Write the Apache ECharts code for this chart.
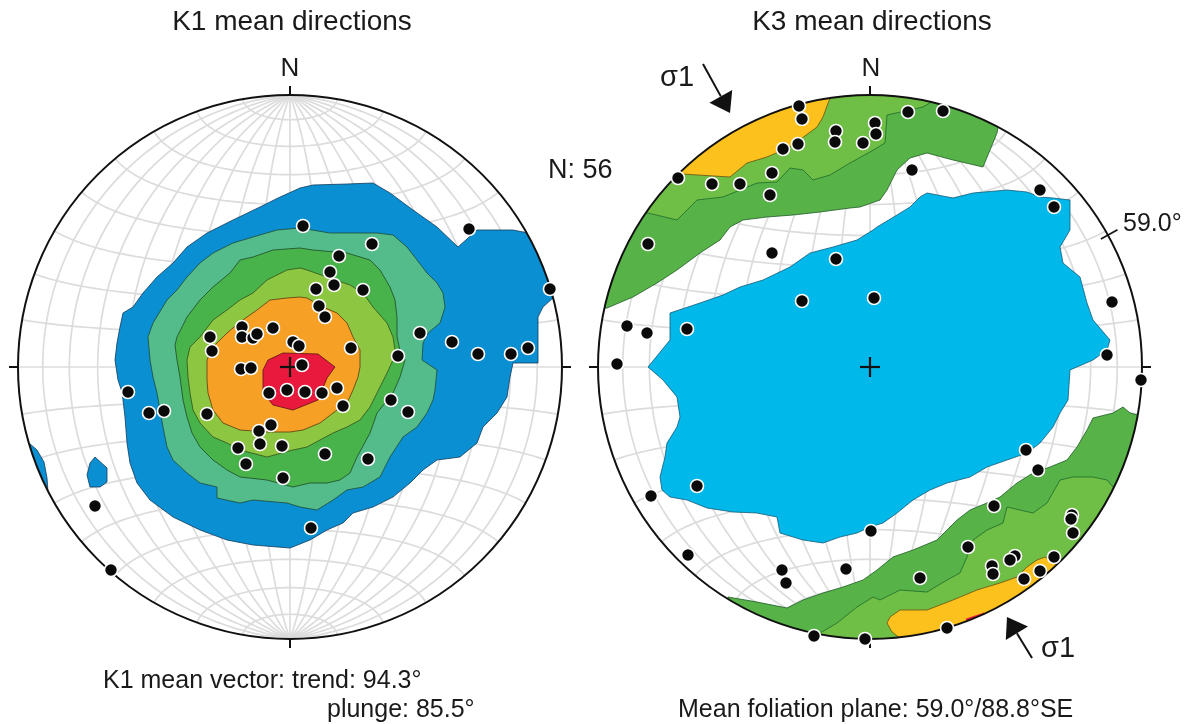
<!DOCTYPE html>
<html>
<head>
<meta charset="utf-8">
<script src="https://cdn.jsdelivr.net/npm/echarts@6/dist/echarts.min.js"></script>
<style>
    html, body { margin: 0; background: #fff; }
    #chart { width: 1188px; height: 724px; }
</style>
</head>
<body>
<div id="chart"></div>
<script>
// net radius in net units (offsets from the net centre, y = north)
const NET_R = 272;

/** K1 directions */
const k1Points = [
    [13, 141], [82, 123], [49, 111], [40, 95], [26, 78], [44, 82], [73, 77], [29, 61], [35, 50],
    [-80, 30], [-48, 40], [-48, 30], [-37, 29], [-33, 33], [-17, 39], [-78, 16], [3, 25], [9, 21],
    [61, 19], [130, 34], [108, 11], [162, 25], [188, 13], [221, 13], [238, 19], [260, 78], [179, 138],
    [-49, -2], [-39, -1], [12, 2], [-162, -25], [-141, -46], [-126, -44], [-83, -47], [-21, -26],
    [-3, -23], [15, -25], [32, -26], [47, -21], [53, -39], [101, -33], [118, -45], [-19, -58],
    [-31, -64], [-52, -81], [-30, -77], [-8, -79], [-44, -97], [35, -87], [78, -92], [-7, -111],
    [21, -161], [-195, -139], [-179, -203],
];
/** K1 density contours, lowest level first */
const k1Level1 = [
    [10, 179], [23, 182], [57, 183], [83, 184], [100, 174], [123, 157], [147, 140], [168, 120],
    [187, 137], [223, 137], [238, 134], [280, 150], [290, 70], [263, 69], [253, 60], [248, 50],
    [248, 4], [223, 4], [220, -10], [217, -30], [207, -46], [193, -60], [187, -76], [170, -90],
    [147, -93], [133, -103], [120, -116], [103, -130], [83, -140], [63, -146], [53, -156],
    [37, -163], [20, -173], [0, -181], [-37, -178], [-63, -173], [-90, -163], [-117, -150],
    [-140, -133], [-153, -116], [-160, -96], [-163, -76], [-165, -50], [-168, -25], [-172, -13],
    [-175, 7], [-173, 24], [-170, 40], [-167, 54], [-157, 60], [-147, 74], [-133, 90], [-117, 104],
    [-103, 120], [-83, 134], [-57, 147], [-30, 160], [-12, 169],
];
const k1Level1Edge = [
    [-261, -76], [-253, -83], [-246, -95], [-243, -111], [-242, -125], [-270, -140], [-285, -80],
];
const k1Level1Blob = [
    [-195, -90], [-183, -101], [-183, -115], [-190, -120], [-200, -120], [-203, -108], [-200, -96],
];
const k1Level2 = [
    [10, 139], [40, 134], [63, 134], [87, 134], [103, 132], [117, 120], [127, 107], [137, 94],
    [147, 84], [153, 74], [155, 60], [150, 44], [138, 34], [133, 24], [132, 7], [147, -3],
    [145, -23], [143, -33], [137, -46], [127, -60], [113, -70], [100, -90], [90, -110], [73, -120],
    [57, -123], [43, -133], [27, -143], [10, -140], [-3, -136], [-37, -133], [-50, -136],
    [-73, -131], [-73, -120], [-90, -116], [-103, -106], [-117, -93], [-123, -80], [-127, -60],
    [-130, -43], [-133, -26], [-137, -10], [-140, 7], [-142, 30], [-137, 44], [-123, 67],
    [-113, 77], [-103, 90], [-90, 104], [-77, 114], [-57, 124], [-37, 130], [-13, 137],
];
const k1Level3 = [
    [10, 119], [23, 117], [57, 114], [80, 107], [90, 97], [100, 80], [105, 67], [107, 50],
    [107, 30], [110, 17], [115, 7], [110, -10], [103, -26], [95, -36], [87, -46], [80, -66],
    [67, -90], [60, -106], [50, -113], [37, -116], [20, -116], [3, -120], [-23, -113], [-50, -110],
    [-63, -103], [-77, -93], [-90, -80], [-98, -66], [-103, -50], [-107, -33], [-110, -10],
    [-113, 7], [-115, 22], [-113, 30], [-103, 50], [-90, 67], [-77, 80], [-60, 94], [-50, 107],
    [-37, 110], [-17, 117],
];
const k1Level4 = [
    [10, 99], [17, 97], [40, 89], [60, 82], [73, 74], [83, 60], [97, 44], [103, 30], [105, 17],
    [103, 7], [97, -6], [87, -26], [80, -40], [70, -53], [57, -60], [43, -66], [30, -73], [17, -80],
    [3, -83], [-23, -90], [-50, -83], [-63, -76], [-77, -70], [-90, -56], [-97, -43], [-100, -26],
    [-102, -10], [-103, 7], [-100, 20], [-90, 30], [-77, 47], [-63, 57], [-50, 67], [-37, 74],
    [-23, 87], [-3, 97],
];
const k1Level5 = [
    [10, 70], [17, 69], [33, 60], [47, 54], [57, 44], [63, 30], [70, 17], [70, 0], [68, -10],
    [63, -23], [57, -36], [43, -46], [30, -56], [13, -63], [0, -65], [-23, -65], [-50, -63],
    [-67, -56], [-77, -43], [-82, -26], [-83, -13], [-83, 7], [-77, 20], [-63, 34], [-50, 45],
    [-33, 57], [-20, 67], [-3, 69],
];
const k1Level6 = [
    [-7, 14], [28, 13], [45, 0], [37, -11], [28, -33], [3, -43], [-17, -38], [-27, -26], [-27, -3], [-22, 7],
];

/** K3 directions */
const k3Points = [
    [-71, 261], [-68, 248], [-87, 218], [-72, 223], [-34, 236], [-35, 225], [-7, 224], [5, 244],
    [6, 233], [-192, 189], [-158, 183], [-130, 183], [-98, 194], [-100, 172], [-222, 123],
    [-98, 114], [-34, 108], [-68, 66], [4, 69], [-243, 41], [-223, 34], [-183, 38], [-253, 3],
    [38, 255], [73, 256], [42, 197], [170, 177], [184, 160], [242, 65], [237, 12], [-173, -119],
    [-219, -129], [-182, -188], [-88, -203], [-84, -216], [-24, -202], [1, -164], [-56, -269],
    [-5, -272], [271, -13], [156, -83], [168, -103], [124, -139], [98, -180], [202, -148],
    [201, -152], [203, -166], [145, -189], [140, -193], [122, -199], [123, -207], [184, -190],
    [170, -204], [154, -212], [50, -211], [77, -261],
];
/** K3 density contours */
const k3Level1 = [
    [-222, 0], [-200, 27], [-200, 54], [-170, 64], [-147, 72], [-130, 80], [-107, 87], [-80, 100],
    [-60, 114], [-37, 120], [-13, 127], [3, 137], [7, 140], [27, 152], [40, 160], [50, 170],
    [57, 174], [83, 169], [103, 174], [137, 177], [157, 175], [170, 170], [183, 169], [200, 167],
    [200, 137], [190, 120], [193, 104], [210, 90], [217, 64], [223, 47], [240, 27], [237, 17],
    [223, 7], [200, -3], [198, -33], [190, -46], [183, -60], [170, -76], [157, -86], [137, -93],
    [117, -100], [100, -110], [77, -116], [60, -123], [43, -133], [27, -146], [13, -156], [0, -160],
    [-13, -166], [-30, -170], [-47, -176], [-67, -173], [-90, -166], [-93, -150], [-113, -146],
    [-137, -145], [-163, -141], [-183, -133], [-200, -130], [-208, -123], [-210, -110], [-205, -90],
    [-203, -76], [-193, -60], [-190, -50], [-193, -30], [-207, -13],
];
const k3Level2North = [
    [-263, 59], [-237, 70], [-213, 84], [-193, 97], [-170, 114], [-150, 127], [-140, 140],
    [-127, 147], [-103, 150], [-77, 152], [-50, 155], [-20, 159], [-10, 160], [10, 167], [17, 177],
    [27, 197], [40, 209], [57, 214], [83, 207], [113, 200], [127, 234], [128, 240], [170, 297],
    [0, 299], [-170, 297], [-290, 167], [-295, 57],
];
const k3Level2South = [
    [-142, -230], [-113, -235], [-83, -241], [-67, -233], [-47, -226], [-27, -220], [-7, -213],
    [7, -203], [23, -190], [43, -183], [67, -173], [87, -153], [100, -143], [117, -136], [130, -130],
    [147, -116], [163, -106], [180, -100], [197, -93], [207, -80], [217, -63], [223, -51], [243, -46],
    [253, -40], [260, -46], [268, -48], [295, -53], [290, -233], [130, -298], [0, -298], [-150, -273],
];
const k3Level3North = [
    [-222, 154], [-193, 147], [-173, 167], [-147, 170], [-113, 184], [-93, 185], [-80, 199],
    [-67, 197], [-57, 187], [-40, 192], [-20, 204], [0, 215], [15, 224], [17, 252], [53, 260],
    [65, 267], [70, 297], [0, 299], [-170, 295], [-280, 217], [-285, 147],
];
const k3Level3South = [
    [-50, -266], [-33, -256], [-13, -240], [3, -230], [10, -233], [30, -223], [57, -225], [77, -213],
    [90, -206], [97, -190], [103, -173], [117, -163], [133, -156], [137, -140], [150, -143],
    [163, -146], [177, -136], [190, -113], [203, -110], [223, -110], [237, -113], [243, -120],
    [280, -133], [230, -273], [30, -298], [-55, -293],
];
const k3Level4North = [
    [-188, 193], [-140, 190], [-123, 204], [-103, 210], [-80, 220], [-53, 240], [-47, 250],
    [-40, 269], [-35, 297], [-170, 295], [-230, 217],
];
const k3Level4South = [
    [20, -250], [30, -243], [57, -243], [83, -233], [107, -223], [130, -216], [147, -210],
    [157, -200], [167, -193], [175, -190], [185, -196], [210, -233], [90, -293], [35, -275],
    [22, -265], [17, -256],
];
const k3Level5 = [[96, -252], [114, -246], [117, -249], [98, -255]];

/** compass ticks, strike tick (azimuth, degrees) and sigma-1 arrows [tail, tip] */
const compassTicks = [0, 90, 180, 270];
const strikeTick = 61;
const sigmaArrows = [
    [[-167, 303], [-140, 254]],
    [[162, -291], [137, -250]],
];

const k1Layers = [
    { pts: k1Level1, fill: "#0a8fd2", stroke: "#123a5c" },
    { pts: k1Level1Edge, fill: "#0a8fd2", stroke: "#123a5c" },
    { pts: k1Level1Blob, fill: "#0a8fd2", stroke: "#123a5c" },
    { pts: k1Level2, fill: "#54bb8b", stroke: "#1d4a33" },
    { pts: k1Level3, fill: "#48b24b", stroke: "#1d4a25" },
    { pts: k1Level4, fill: "#8dc640", stroke: "#30501a" },
    { pts: k1Level5, fill: "#f6a126", stroke: "#5a3a10" },
    { pts: k1Level6, fill: "#e8193c", stroke: "#5a1018" },
];
const k3Layers = [
    { pts: k3Level1, fill: "#00b8e9", stroke: "#155a78" },
    { pts: k3Level2North, fill: "#57b348", stroke: "#1d5a25" },
    { pts: k3Level2South, fill: "#57b348", stroke: "#1d5a25" },
    { pts: k3Level3North, fill: "#6fbe46", stroke: "#1e6a2a" },
    { pts: k3Level3South, fill: "#6fbe46", stroke: "#1e6a2a" },
    { pts: k3Level4North, fill: "#fdc11d", stroke: "#6a5010" },
    { pts: k3Level4South, fill: "#fdc11d", stroke: "#6a5010" },
    { pts: k3Level5, fill: "#e8193c", stroke: "#e8193c" },
];

// Schmidt (equal-area) net, 10° grid
const netLines = (function () {
    const s = NET_R / Math.SQRT2;
    const d = Math.PI / 180;
    const proj = (phi, lam) => {
        const k = Math.sqrt(2 / (1 + Math.cos(phi * d) * Math.cos(lam * d)));
        return [s * k * Math.cos(phi * d) * Math.sin(lam * d), s * k * Math.sin(phi * d)];
    };
    const list = [];
    for (let lam = -80; lam <= 80; lam += 10) {
        const line = [];
        for (let phi = -90; phi <= 90; phi += 2) line.push(proj(phi, lam));
        list.push(line);
    }
    for (let phi = -80; phi <= 80; phi += 10) {
        const line = [];
        for (let lam = -90; lam <= 90; lam += 2) line.push(proj(phi, lam));
        list.push(line);
    }
    return list;
})();

const polar = (az, r) => [r * Math.sin(az * Math.PI / 180), r * Math.cos(az * Math.PI / 180)];

function netSeries(idx) {
    return {
        type: "custom", xAxisIndex: idx, yAxisIndex: idx, z: 1, silent: true,
        data: netLines.map(() => [0, 0]),
        renderItem: (params, api) => ({
            type: "polyline",
            shape: { points: netLines[params.dataIndex].map((p) => api.coord(p)) },
            style: { stroke: "#dcdcdc", lineWidth: 1.7, fill: null },
        }),
    };
}

function contourSeries(idx, layers) {
    return {
        type: "custom", xAxisIndex: idx, yAxisIndex: idx, z: 2, silent: true,
        data: layers.map(() => [0, 0]),
        renderItem: (params, api) => {
            const layer = layers[params.dataIndex];
            return {
                type: "polygon",
                shape: { points: layer.pts.map((p) => api.coord(p)) },
                style: { fill: layer.fill, stroke: layer.stroke, lineWidth: 0.8 },
            };
        },
    };
}

// white frame that hides everything outside the primitive circle
function maskSeries(idx) {
    return {
        type: "custom", xAxisIndex: idx, yAxisIndex: idx, z: 3, silent: true,
        data: [[0, 0]],
        renderItem: (params, api) => {
            const c = api.coord([0, 0]);
            const r = api.size([NET_R, 0])[0];
            const m = r + 32;
            let path = `M${c[0] - m} ${c[1] - m}L${c[0] + m} ${c[1] - m}L${c[0] + m} ${c[1] + m}L${c[0] - m} ${c[1] + m}Z`;
            path += `M${c[0] + r} ${c[1]}`;
            for (let i = 1; i <= 720; i++) {
                const a = i * Math.PI / 360;
                path += `L${c[0] + r * Math.cos(a)} ${c[1] - r * Math.sin(a)}`;
            }
            path += "Z";
            return { type: "path", shape: { pathData: path }, style: { fill: "#fff" } };
        },
    };
}

function frameSeries(idx, extra) {
    return {
        type: "custom", xAxisIndex: idx, yAxisIndex: idx, z: 4, silent: true,
        data: [[0, 0]],
        renderItem: (params, api) => {
            const c = api.coord([0, 0]);
            const r = api.size([NET_R, 0])[0];
            const black = { stroke: "#111", lineWidth: 2, fill: null };
            const seg = (a, b, w) => {
                const p = api.coord(a), q = api.coord(b);
                return { type: "line", shape: { x1: p[0], y1: p[1], x2: q[0], y2: q[1] }, style: { stroke: "#111", lineWidth: w || 2 } };
            };
            const children = [
                { type: "circle", shape: { cx: c[0], cy: c[1], r }, style: black },
                seg([-10, 0], [10, 0], 2.2),
                seg([0, -10], [0, 10], 2.2),
            ];
            compassTicks.forEach((az) => children.push(seg(polar(az, NET_R), polar(az, NET_R + 9))));
            if (extra) {
                children.push(seg(polar(strikeTick, NET_R - 8), polar(strikeTick, NET_R + 11), 1.6));
                sigmaArrows.forEach(([tail, tip]) => {
                    const p = api.coord(tail), q = api.coord(tip);
                    const len = Math.hypot(q[0] - p[0], q[1] - p[1]);
                    const ux = (q[0] - p[0]) / len, uy = (q[1] - p[1]) / len;
                    const bx = q[0] - ux * 19, by = q[1] - uy * 19;
                    children.push({ type: "line", shape: { x1: p[0], y1: p[1], x2: bx, y2: by }, style: { stroke: "#111", lineWidth: 2 } });
                    children.push({
                        type: "polygon",
                        shape: { points: [[q[0], q[1]], [bx - uy * 13, by + ux * 13], [bx + uy * 13, by - ux * 13]] },
                        style: { fill: "#111" },
                    });
                });
            }
            return { type: "group", children };
        },
    };
}

function pointSeries(idx, pts) {
    return {
        type: "scatter", xAxisIndex: idx, yAxisIndex: idx, z: 5, silent: true,
        symbol: "circle", symbolSize: 13,
        itemStyle: { color: "#0a0a0a", borderColor: "#fff", borderWidth: 1.6, opacity: 1 },
        data: pts,
    };
}

const font = (size) => `${size}px "Liberation Sans", Arial, sans-serif`;
const label = (text, x, y, size, align) => ({
    type: "text", x, y, z: 100,
    style: { text, font: font(size), fill: "#1a1a1a", textAlign: align || "center", textVerticalAlign: "middle" },
});

const axis = (gridIndex) => ({ type: "value", gridIndex, min: -NET_R, max: NET_R, show: false });

const option = {
    animation: false,
    backgroundColor: "#fff",
    grid: [
        { left: 18, top: 95, width: 544, height: 544 },
        { left: 598, top: 95, width: 544, height: 544 },
    ],
    xAxis: [axis(0), axis(1)],
    yAxis: [axis(0), axis(1)],
    graphic: [
        label("K1 mean directions", 292, 22, 28),
        label("K3 mean directions", 872, 22, 28),
        label("N", 290, 69, 26),
        label("N", 871, 69, 26),
        label("N: 56", 548, 171, 27, "left"),
        label("59.0°", 1123, 224, 25, "left"),
        label("σ1", 660, 78, 29, "left"),
        label("σ1", 1041, 649, 29, "left"),
        label("K1 mean vector: trend: 94.3°", 103, 681, 25, "left"),
        label("plunge: 85.5°", 327, 710, 25, "left"),
        label("Mean foliation plane: 59.0°/88.8°SE", 678, 710, 25, "left"),
    ],
    series: [
        netSeries(0), contourSeries(0, k1Layers), maskSeries(0), frameSeries(0, false), pointSeries(0, k1Points),
        netSeries(1), contourSeries(1, k3Layers), maskSeries(1), frameSeries(1, true), pointSeries(1, k3Points),
    ],
};

const chart = echarts.init(document.getElementById("chart"));
chart.setOption(option);
</script>
</body>
</html>
